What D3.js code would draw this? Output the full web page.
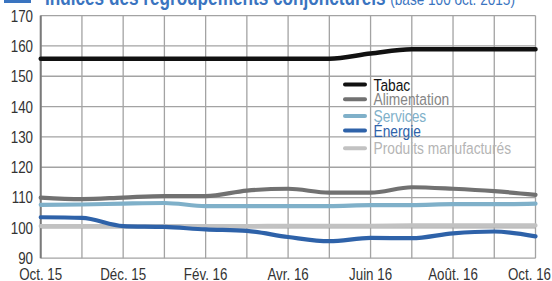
<!DOCTYPE html>
<html><head><meta charset="utf-8">
<script src="https://cdn.jsdelivr.net/npm/d3@7/dist/d3.min.js"></script>
<style>
body{margin:0;background:#fff;}
svg{display:block;font-family:"Liberation Sans Narrow","Arial Narrow","Liberation Sans",Arial,sans-serif;}
</style></head><body>
<svg id="c" width="552" height="281"></svg>
<script>
const months = ["Oct. 15","Nov. 15","Déc. 15","Janv. 16","Fév. 16","Mars 16","Avr. 16","Mai 16","Juin 16","Juil. 16","Août. 16","Sept. 16","Oct. 16"];
const tickLabels = ["Oct. 15","Déc. 15","Fév. 16","Avr. 16","Juin 16","Août. 16","Oct. 16"];
const yTicks = [90,100,110,120,130,140,150,160,170];
const seriesNames = ["Tabac","Alimentation","Services","Énergie","Produits manufacturés"];
const seriesColors = ["#111111","#717171","#7fb0c9","#2e62a9","#c2c2c2"];
const tabac        = [155.8,155.8,155.8,155.8,155.8,155.8,155.8,155.8,157.5,158.9,158.9,158.9,158.9];
const alimentation = [110.0,109.5,110.0,110.5,110.5,112.3,112.9,111.6,111.6,113.4,112.9,112.1,110.9];
const services     = [107.6,107.7,108.0,108.2,107.2,107.2,107.2,107.2,107.5,107.5,107.8,107.8,108.0];
const energie      = [103.5,103.3,100.6,100.3,99.5,99.0,97.0,95.6,96.7,96.6,98.2,98.8,97.2];
const produits     = [100.6,100.6,100.6,100.6,100.6,100.6,100.7,100.7,100.7,100.8,100.8,100.8,100.8];
const seriesValues = [tabac,alimentation,services,energie,produits];

const W = 552;
const SX = 0.81; // condense factor (narrow font emulation)
const svg = d3.select("#c");
const x = d3.scalePoint().domain(months).range([40.7,535.5]);
const y = d3.scaleLinear().domain([90,170]).range([258.2,15.6]);

function ctext(sel, px, py){ return sel.attr("transform",`translate(${px},${py}) scale(${SX},1)`); }

// title (mostly cut off at the top)
svg.append("rect").attr("x",4).attr("y",-6).attr("width",27).attr("height",9).attr("fill","#3a74c0");
const t = ctext(svg.append("text"),45,5).attr("fill","#3a74c0")
  .style("font-size","21.2px").style("font-weight","bold");
t.append("tspan").text("Indices des regroupements conjoncturels ");
t.append("tspan").style("font-size","16.8px").style("font-weight","normal").text("(base 100 oct. 2015)");

// grid
const g = svg.append("g");
g.selectAll("line.h").data(yTicks).enter().append("line")
  .attr("x1",x(months[0])).attr("x2",x(months[months.length-1]))
  .attr("y1",d=>y(d)).attr("y2",d=>y(d))
  .attr("stroke","#a3a3a3").attr("stroke-width",1.3);
g.selectAll("line.v").data(months).enter().append("line")
  .attr("x1",d=>x(d)).attr("x2",d=>x(d))
  .attr("y1",y(170)).attr("y2",y(90))
  .attr("stroke","#a3a3a3").attr("stroke-width",1.3);
g.append("line").attr("x1",x(months[0])).attr("x2",x(months[0]))
  .attr("y1",y(170)).attr("y2",y(90)).attr("stroke","#7a7a7a").attr("stroke-width",2);

// y labels
svg.append("g").selectAll("text").data(yTicks).enter().append("text")
  .attr("transform",d=>`translate(33,${y(d)}) scale(${SX},1)`).attr("dy","0.36em").attr("text-anchor","end")
  .attr("fill","#333").style("font-size","16.5px").text(d=>d);
// x labels (last one kept inside the picture)
const last = tickLabels[tickLabels.length-1];
svg.append("g").selectAll("text").data(tickLabels).enter().append("text")
  .attr("transform",d=>`translate(${d===last?W-1:x(d)},279.5) scale(${SX},1)`)
  .attr("text-anchor",d=>d===last?"end":"middle")
  .attr("fill","#333").style("font-size","16.5px").text(d=>d);

// lines
const line = d3.line().x((d,i)=>x(months[i])).y(d=>y(d)).curve(d3.curveMonotoneX);
const order = [4,3,2,1,0];
svg.append("g").selectAll("path").data(order).enter().append("path")
  .attr("d",i=>line(seriesValues[i])).attr("fill","none")
  .attr("stroke",i=>seriesColors[i]).attr("stroke-width",i=>i===0?4.5:4.2)
  .attr("stroke-linecap","round").attr("stroke-linejoin","round");

// legend
const legY = [84.5,99.3,116,130.5,148.3];
const textColors = ["#111111","#858585","#80b0c9","#2e62a9","#b5b5b5"];
const leg = svg.append("g");
seriesNames.forEach((n,i)=>{
  leg.append("line").attr("x1",345).attr("x2",365).attr("y1",legY[i]).attr("y2",legY[i])
    .attr("stroke",seriesColors[i]).attr("stroke-width",4).attr("stroke-linecap","round");
  ctext(leg.append("text"),373.5,legY[i]).attr("dy","0.36em")
    .attr("fill",textColors[i]).style("font-size","17px").text(n);
});
</script></body></html>
